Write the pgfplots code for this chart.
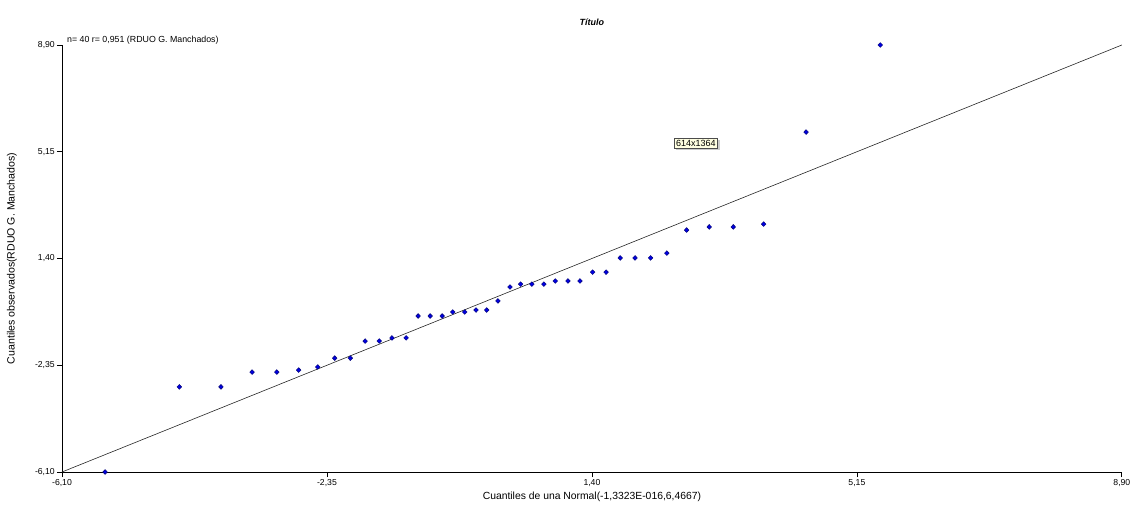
\documentclass[border=0pt]{standalone}
\usepackage{pgfplots}
\pgfplotsset{compat=1.18}
\usepackage{fontspec}
\setmainfont{Liberation Sans}
\usetikzlibrary{shadows}
\definecolor{ptfill}{RGB}{0,0,225}
\definecolor{ptdraw}{RGB}{0,0,110}
\definecolor{tipfill}{RGB}{255,255,225}
\begin{document}
\begin{tikzpicture}
\begin{axis}[
  at={(0,0)}, anchor=south west,
  scale only axis, width=1060bp, height=427bp,
  xmin=-6.1, xmax=8.9, ymin=-6.1, ymax=8.9,
  axis x line*=bottom, axis y line*=left,
  axis line style={black, line width=0.8bp, -},
  xtick={-6.1,-2.35,1.4,5.15,8.9},
  xticklabels={{-6,10},{-2,35},{1,40},{5,15},{8,90}},
  ytick={-6.1,-2.35,1.4,5.15,8.9},
  yticklabels={{-6,10},{-2,35},{1,40},{5,15},{8,90}},
  tick align=outside, major tick length=5bp,
  tick style={black, line width=0.8bp},
  ticklabel style={font=\fontsize{8.7}{10}\selectfont},
  xticklabel style={inner sep=2bp},
  yticklabel style={inner sep=2bp},
  xlabel={Cuantiles de una Normal(-1,3323E-016,6,4667)},
  ylabel={Cuantiles observados(RDUO G. Manchados)},
  xlabel style={font=\fontsize{10.4}{12}\selectfont, at={(axis description cs:0.5,-0.0585)}, anchor=center},
  ylabel style={font=\fontsize{10.6}{12}\selectfont, at={(axis description cs:-0.0472,0.5)}, anchor=center},
  clip=false,
]
\addplot[black!85, line width=0.6bp] coordinates {(-6.1,-6.1) (8.9,8.9)};
\addplot[only marks, mark=diamond*, mark size=2.4bp,
  mark options={fill=ptfill, draw=ptdraw, line width=0.4bp, xscale=1.3}] coordinates {
(-5.49,-6.10) (-4.44,-3.11) (-3.85,-3.11) (-3.41,-2.59) (-3.06,-2.59)
(-2.75,-2.52) (-2.48,-2.41) (-2.24,-2.10) (-2.02,-2.10) (-1.81,-1.50)
(-1.61,-1.50) (-1.43,-1.39) (-1.23,-1.39) (-1.06,-0.62) (-0.89,-0.62)
(-0.72,-0.62) (-0.57,-0.48) (-0.40,-0.48) (-0.24,-0.41) (-0.09,-0.41)
(0.07,-0.09) (0.24,0.40) (0.39,0.50) (0.55,0.50) (0.72,0.50)
(0.88,0.61) (1.06,0.61) (1.23,0.61) (1.41,0.92) (1.60,0.92)
(1.80,1.42) (2.01,1.42) (2.23,1.42) (2.46,1.59) (2.74,2.40)
(3.06,2.51) (3.40,2.51) (3.83,2.61) (4.43,5.84) (5.48,8.90)
};
\node[font=\bfseries\itshape\fontsize{9}{11}\selectfont, anchor=center]
  at (axis description cs:0.5,1.0539) {Título};
\node[font=\fontsize{8.85}{10}\selectfont, anchor=west, inner sep=0pt]
  at (axis description cs:0.0047,1.0117) {n= 40 r= 0,951 (RDUO G. Manchados)};
\node[font=\fontsize{9}{10}\selectfont, fill=tipfill, draw=black!70, line width=0.5bp,
  inner sep=2bp, drop shadow={shadow xshift=2bp, shadow yshift=-2bp, fill=black!40}]
  at (axis description cs:0.598,0.7705) {614x1364};
\end{axis}
\path[use as bounding box] (-62bp,-37bp) rectangle (1077bp,472bp);
\end{tikzpicture}
\end{document}
